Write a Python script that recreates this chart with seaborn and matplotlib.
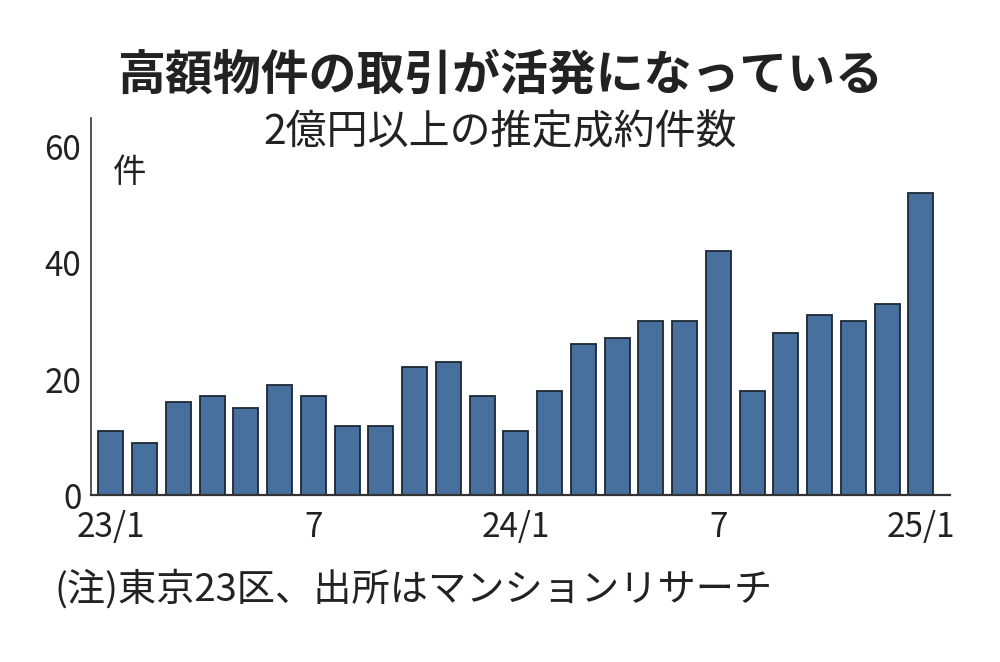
"""
High-price condo deals in Tokyo's 23 wards (bar chart)
"""

import matplotlib
matplotlib.use("Agg")
import matplotlib.pyplot as plt
import pandas as pd
import seaborn as sns

# Monthly estimated contracts of units priced 200M yen or more
months = [
    "23/1", "23/2", "23/3", "23/4", "23/5", "23/6", "23/7", "23/8", "23/9",
    "23/10", "23/11", "23/12", "24/1", "24/2", "24/3", "24/4", "24/5", "24/6",
    "24/7", "24/8", "24/9", "24/10", "24/11", "24/12", "25/1",
]
counts = [11, 9, 16, 17, 15, 19, 17, 12, 12, 22, 23, 17,
          11, 18, 26, 27, 30, 30, 42, 18, 28, 31, 30, 33, 52]
tick_months = ["23/1", "23/7", "24/1", "24/7", "25/1"]
tick_labels = ["23/1", "7", "24/1", "7", "25/1"]
y_ticks = [0, 20, 40, 60]

TITLE = "高額物件の取引が活発になっている"
SUBTITLE = "2億円以上の推定成約件数"
UNIT = "件"
NOTE = "(注)東京23区、出所はマンションリサーチ"

BAR_COLOR = "#48709e"
EDGE_COLOR = "#1c2733"
TEXT_COLOR = "#222222"

sns.set_theme(style="white")
plt.rcParams["font.family"] = ["Noto Sans CJK JP", "DejaVu Sans"]

df = pd.DataFrame({"month": months, "count": counts})

fig = plt.figure(figsize=(10, 6.62), dpi=100)
fig.patch.set_facecolor("white")
ax = fig.add_axes([0.091, 0.252, 0.859, 0.570])

sns.barplot(
    data=df,
    x="month",
    y="count",
    order=months,
    color=BAR_COLOR,
    saturation=1,
    width=0.74,
    edgecolor=EDGE_COLOR,
    linewidth=1.3,
    ax=ax,
)

ax.set_xlim(-0.59, len(months) - 1 + 0.86)
ax.set_ylim(0, 65)
ax.set_xlabel("")
ax.set_ylabel("")

# x axis: only a few month labels
ax.set_xticks([months.index(m) for m in tick_months])
ax.set_xticklabels(tick_labels, fontsize=24, color=TEXT_COLOR)
ax.tick_params(axis="x", length=0, pad=11)

ax.set_yticks(y_ticks)
ax.set_yticklabels([str(v) for v in y_ticks], fontsize=24, color=TEXT_COLOR)
ax.tick_params(axis="y", direction="in", length=8, width=1.2,
               color="#333333", pad=7)

for side in ["top", "right"]:
    ax.spines[side].set_visible(False)
ax.spines["left"].set_color("#333333")
ax.spines["left"].set_linewidth(1.2)
ax.spines["bottom"].set_color("#333333")
ax.spines["bottom"].set_linewidth(1.6)

ax.text(0.56, 55.5, UNIT, fontsize=24, color=TEXT_COLOR,
        ha="center", va="center")

fig.text(0.5, 0.886, TITLE, fontsize=34.5, fontweight="bold",
         color=TEXT_COLOR, ha="center", va="center")
fig.text(0.5, 0.800, SUBTITLE, fontsize=29.5, color=TEXT_COLOR,
         ha="center", va="center")
fig.text(0.055, 0.109, NOTE, fontsize=27.5, color=TEXT_COLOR,
         ha="left", va="center")

fig.savefig("out.png", dpi=100, facecolor="white")
plt.close(fig)
